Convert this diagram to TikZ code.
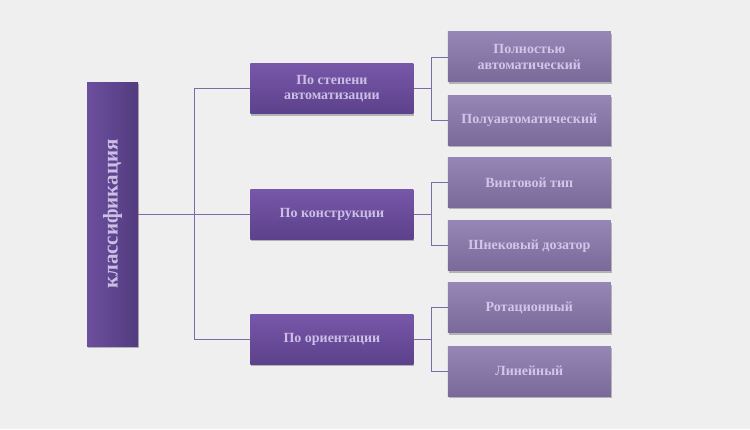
\documentclass[tikz,border=0pt]{standalone}
\usepackage{fontspec}
\setmainfont{Liberation Serif}
\usepackage{xcolor}
\usetikzlibrary{positioning,shadows}

\definecolor{bgcol}{HTML}{EFEFEF}
\definecolor{linecol}{HTML}{7D6AA8}
\definecolor{rootl}{HTML}{6C4F9F}
\definecolor{rootr}{HTML}{523B7E}
\definecolor{midt}{HTML}{7757A9}
\definecolor{midb}{HTML}{5C418B}
\definecolor{leaft}{HTML}{9686B6}
\definecolor{leafb}{HTML}{7A6A9A}
\definecolor{txtcol}{HTML}{CCBFE6}

\tikzset{
  boxshadow/.style = {drop shadow={shadow xshift=1pt, shadow yshift=-2pt, opacity=0.25, fill=black}},
  rootbox/.style = {boxshadow, left color=rootl, right color=rootr, minimum width=51pt,
    minimum height=264pt, inner sep=0pt, text=txtcol, font=\fontsize{21}{23}\selectfont\bfseries},
  midbox/.style = {boxshadow, top color=midt, bottom color=midb, minimum width=163pt,
    minimum height=50pt, inner sep=0pt, align=center, text=txtcol,
    font=\fontsize{14}{15.5}\selectfont\bfseries},
  leafbox/.style = {boxshadow, top color=leaft, bottom color=leafb, minimum width=163pt,
    minimum height=50pt, inner sep=0pt, align=center, text=txtcol!90!white,
    font=\fontsize{14}{15.5}\selectfont\bfseries},
  link/.style = {draw=linecol, line width=0.8pt}
}

\begin{document}
\begin{tikzpicture}[x=1pt, y=-1pt]
  \fill[bgcol] (0,0) rectangle (750,429);
  \useasboundingbox (0,0) rectangle (750,429);

  \node[rootbox] (root) at (112.5,214) {\rotatebox{90}{классификация}};

  \node[midbox, right=112pt of root] (mid2) {По конструкции};
  \node[midbox, above=75pt of mid2] (mid1) {По степени\\автоматизации};
  \node[midbox, below=75pt of mid2] (mid3) {По ориентации};

  \node[leafbox, above right=6.5pt and 34pt of mid1.east, anchor=south west] (full) {Полностью\\автоматический};
  \node[leafbox, below right=6.5pt and 34pt of mid1.east, anchor=north west] (semi) {Полуавтоматический};
  \node[leafbox, above right=6.5pt and 34pt of mid2.east, anchor=south west] (screw) {Винтовой тип};
  \node[leafbox, below right=6.5pt and 34pt of mid2.east, anchor=north west] (auger) {Шнековый дозатор};
  \node[leafbox, above right=6.5pt and 34pt of mid3.east, anchor=south west] (rot) {Ротационный};
  \node[leafbox, below right=6.5pt and 34pt of mid3.east, anchor=north west] (lin) {Линейный};

  % forks
  \coordinate[right=56pt of root.east] (rootfork);
  \coordinate[right=18pt of mid1.east] (fork1);
  \coordinate[right=18pt of mid2.east] (fork2);
  \coordinate[right=18pt of mid3.east] (fork3);

  \draw[link] (root.east) -- (rootfork);
  \draw[link] (rootfork) |- (mid1.west);
  \draw[link] (rootfork) |- (mid2.west);
  \draw[link] (rootfork) |- (mid3.west);

  \draw[link] (mid1.east) -- (fork1);
  \draw[link] (fork1) |- (full.west);
  \draw[link] (fork1) |- (semi.west);
  \draw[link] (mid2.east) -- (fork2);
  \draw[link] (fork2) |- (screw.west);
  \draw[link] (fork2) |- (auger.west);
  \draw[link] (mid3.east) -- (fork3);
  \draw[link] (fork3) |- (rot.west);
  \draw[link] (fork3) |- (lin.west);
\end{tikzpicture}
\end{document}
